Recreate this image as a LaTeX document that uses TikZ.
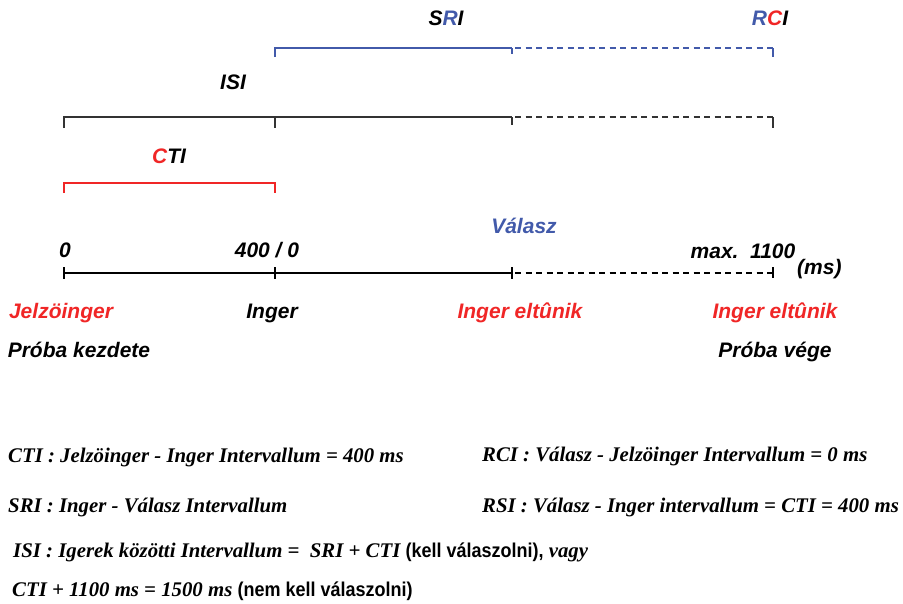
\documentclass[tikz,border=0pt]{standalone}
\usepackage{graphicx}
\usepackage{fontspec}
\setmainfont{Liberation Serif}
\setsansfont{Liberation Sans}
\definecolor{cuered}{RGB}{240,38,38}
\definecolor{respblue}{RGB}{66,90,170}
\tikzset{
  seg/.style={line width=1.1pt},
  dseg/.style={seg, dash pattern=on 6pt off 4.5pt},
  lab/.style={font=\sffamily\bfseries\itshape\fontsize{21}{25}\selectfont, inner sep=0pt, anchor=base},
  defn/.style={font=\rmfamily\bfseries\itshape\fontsize{20.8}{24}\selectfont, inner sep=0pt, anchor=base west}
}
\newcommand{\plainsf}[1]{\scalebox{0.9}[1]{\sffamily\bfseries\upshape\fontsize{20}{24}\selectfont #1}}
\begin{document}
\begin{tikzpicture}[x=1pt, y=-1pt]
  \useasboundingbox (0,0) rectangle (903,603);
  % SRI / RCI bracket
  \draw [seg, respblue] (275,57) -- (275,48) -- (512,48);
  \draw [seg, respblue] (512,48) -- (512,54);
  \draw [dseg, respblue] (515,48) -- (773,48);
  \draw [seg, respblue] (773,48) -- (773,57);
  \node [lab] (sri) at (446,25) {S\textcolor{respblue}{R}I};
  \node [lab] (rci) at (770,25) {\textcolor{respblue}{R}\textcolor{cuered}{C}I};
  % ISI bracket
  \draw [seg, black!80] (64,128) -- (64,117) -- (512,117);
  \draw [seg, black!80] (275,117) -- (275,128);
  \draw [seg, black!80] (512,117) -- (512,125);
  \draw [dseg, black!80] (515,117) -- (773,117);
  \draw [seg, black!80] (773,117) -- (773,128);
  \node [lab] (isi) at (233,89) {ISI};
  % CTI bracket
  \draw [seg, cuered] (64,193) -- (64,183) -- (275,183) -- (275,193);
  \node [lab] (cti) at (169,163) {\textcolor{cuered}{C}TI};
  % time axis
  \draw [seg] (64,273) -- (512,273);
  \draw [dseg] (515,273) -- (773,273);
  \foreach \tx in {64,275,512} {
    \draw [seg] (\tx,267) -- (\tx,279);
  }
  \draw [seg] (773,267) -- (773,278);
  \node [lab] (t0) at (65,257) {0};
  \node [lab] (t400) at (267,257) {400 / 0};
  \node [lab, respblue] (valasz) at (524,233) {Válasz};
  \node [lab] (tmax) at (743,258) {max.~~1100};
  \node [lab, anchor=base west] (ms) at (797,274) {(ms)};
  % events
  \node [lab, cuered] (jelz) at (61,318) {Jelzöinger};
  \node [lab] (inger) at (272,318) {Inger};
  \node [lab, cuered] (elt1) at (520,318) {Inger eltûnik};
  \node [lab, cuered] (elt2) at (775,318) {Inger eltûnik};
  \node [lab] (kezd) at (79,357) {Próba kezdete};
  \node [lab] (vege) at (775,357) {Próba vége};
  % definitions
  \node [defn] (dcti) at (8,462) {CTI : Jelzöinger - Inger Intervallum = 400 ms};
  \node [defn] (drci) at (482,461) {RCI : Válasz - Jelzöinger Intervallum = 0 ms};
  \node [defn] (dsri) at (8,512) {SRI : Inger - Válasz Intervallum};
  \node [defn] (drsi) at (482,512) {RSI : Válasz - Inger intervallum = CTI = 400 ms};
  \node [defn] (disi) at (13,557) {ISI : Igerek közötti Intervallum =~~SRI + CTI \plainsf{(kell válaszolni),} vagy};
  \node [defn] (dctm) at (12,596) {CTI + 1100 ms = 1500 ms \plainsf{(nem kell válaszolni)}};
\end{tikzpicture}
\end{document}
